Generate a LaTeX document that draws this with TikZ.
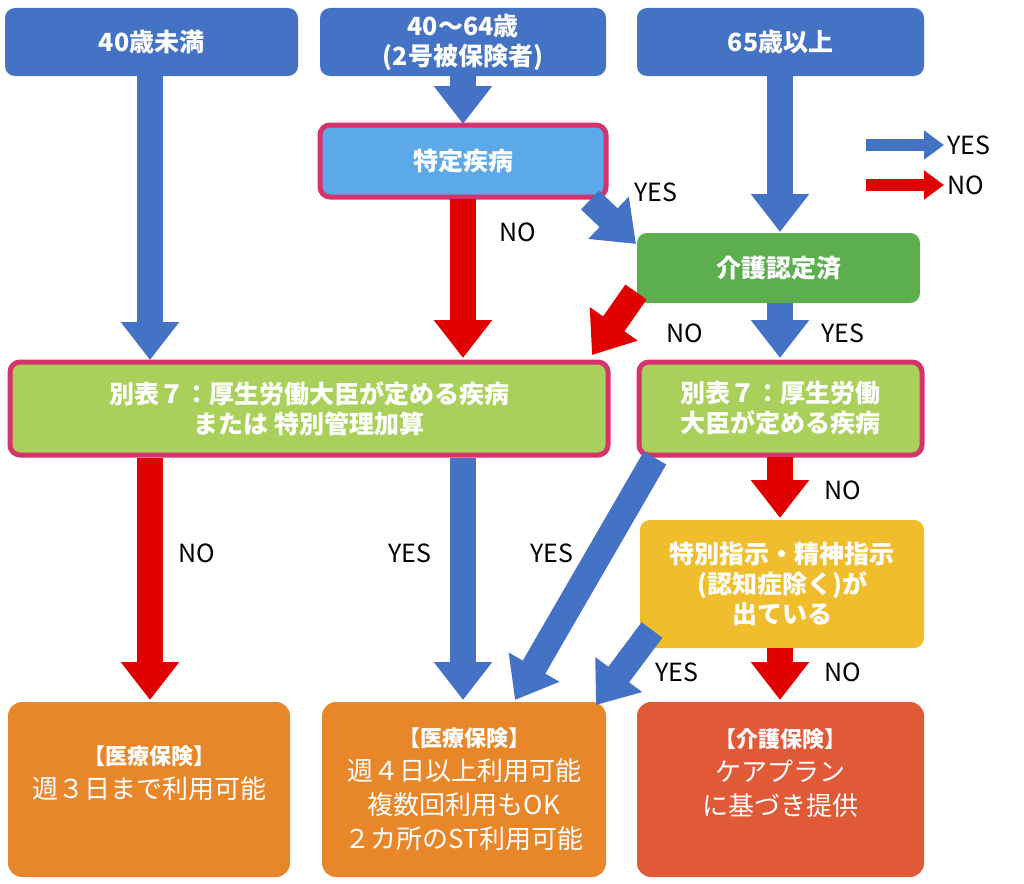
\documentclass[tikz,border=0pt]{standalone}
\usepackage{fontspec}
\setmainfont{Noto Sans CJK JP}
\usetikzlibrary{arrows.meta}
\definecolor{bl}{HTML}{4472C4}
\definecolor{lb}{HTML}{5BA9E8}
\definecolor{gr}{HTML}{5CAE4F}
\definecolor{lg}{HTML}{A9D05A}
\definecolor{pk}{HTML}{D6336C}
\definecolor{ye}{HTML}{F0BE2C}
\definecolor{or}{HTML}{E8862A}
\definecolor{ro}{HTML}{E05A38}
\definecolor{rd}{HTML}{E00000}
\begin{document}
\begin{tikzpicture}[x=1pt,y=-1pt,
 box/.style={rounded corners=10pt,text=white,font=\fontsize{25}{30}\selectfont\bfseries,align=center},
 pb/.style={draw=pk,line width=5pt},
 ba/.style={line width=26pt,-{Triangle[length=38pt,width=56pt]}},
 yes/.style={ba,draw=bl},
 no/.style={ba,draw=rd},
 lab/.style={font=\fontsize{25}{30}\selectfont},
 res/.style={rounded corners=14pt,text=white,font=\fontsize{26}{34}\selectfont,align=center}]
\useasboundingbox (0,0) rectangle (1024,883);
\path[box,fill=bl] (5,8) rectangle (298,76) node[midway] (A) {40歳未満};
\path[box,fill=bl] (320,8) rectangle (606,76) node[midway] (B) {40〜64歳\\(2号被保険者)};
\path[box,fill=bl] (637,8) rectangle (924,76) node[midway] (C) {65歳以上};
\path[box,pb,fill=lb] (320,125) rectangle (606,197) node[midway] (D) {特定疾病};
\path[box,fill=gr] (637,233) rectangle (920,303) node[midway] (E) {介護認定済};
\path[box,pb,fill=lg] (10,362) rectangle (608,455) node[midway] (F) {別表７：厚生労働大臣が定める疾病\\または 特別管理加算};
\path[box,pb,fill=lg] (639,362) rectangle (922,455) node[midway] (G) {別表７：厚生労働\\大臣が定める疾病};
\path[box,fill=ye] (640,520) rectangle (924,648) node[midway] (H) {特別指示・精神指示\\(認知症除く)が\\出ている};
\path[res,fill=or] (8,702) rectangle (290,877) node[midway] (I) {{\bfseries\fontsize{22}{30}\selectfont 【医療保険】}\\週３日まで利用可能\\ \mbox{}};
\path[res,fill=or] (322,702) rectangle (606,877) node[midway] (J) {{\bfseries\fontsize{22}{30}\selectfont 【医療保険】}\\週４日以上利用可能\\複数回利用もOK\\２カ所のST利用可能};
\path[res,fill=ro] (637,702) rectangle (924,877) node[midway] (K) {{\bfseries\fontsize{22}{30}\selectfont 【介護保険】}\\ケアプラン\\に基づき提供\\ \mbox{}};
\coordinate (a1) at (150,76); \coordinate (a2) at (150,360);
\draw[yes] (a1) -- (a2);
\coordinate (b1) at (463,76); \coordinate (b2) at (463,124);
\draw[yes] (b1) -- (b2);
\coordinate (c1) at (780,76); \coordinate (c2) at (780,232);
\draw[yes] (c1) -- (c2);
\coordinate (d1) at (463,199); \coordinate (d2) at (463,358);
\draw[no] (d1) -- (d2);
\node[lab] at (518,232) {NO};
\coordinate (d3) at (590,200); \coordinate (d4) at (636,244);
\draw[yes] (d3) -- (d4);
\node[lab] at (656,192) {YES};
\coordinate (e1) at (636,292); \coordinate (e2) at (592,355);
\draw[no] (e1) -- (e2);
\node[lab] at (685,333) {NO};
\coordinate (e3) at (780,303); \coordinate (e4) at (780,358);
\draw[yes] (e3) -- (e4);
\node[lab] at (843,333) {YES};
\coordinate (f1) at (150,458); \coordinate (f2) at (150,700);
\draw[no] (f1) -- (f2);
\node[lab] at (197,553) {NO};
\coordinate (f3) at (463,458); \coordinate (f4) at (463,700);
\draw[yes] (f3) -- (f4);
\node[lab] at (410,553) {YES};
\coordinate (g1) at (655,458); \coordinate (g2) at (515,700);
\draw[yes] (g1) -- (g2);
\node[lab] at (552,553) {YES};
\coordinate (g3) at (780,457); \coordinate (g4) at (780,518);
\draw[no] (g3) -- (g4);
\node[lab] at (843,490) {NO};
\coordinate (h1) at (652,630); \coordinate (h2) at (596,705);
\draw[yes] (h1) -- (h2);
\node[lab] at (677,672) {YES};
\coordinate (h3) at (780,648); \coordinate (h4) at (780,700);
\draw[no] (h3) -- (h4);
\node[lab] at (843,672) {NO};
\coordinate (l1) at (866,145); \coordinate (l2) at (944,145);
\draw[bl,line width=12pt,-{Triangle[length=20pt,width=28pt]}] (l1) -- (l2);
\node[lab,anchor=west] at (944,145) {YES};
\coordinate (l3) at (866,185); \coordinate (l4) at (944,185);
\draw[rd,line width=12pt,-{Triangle[length=20pt,width=28pt]}] (l3) -- (l4);
\node[lab,anchor=west] at (944,185) {NO};
\end{tikzpicture}
\end{document}
